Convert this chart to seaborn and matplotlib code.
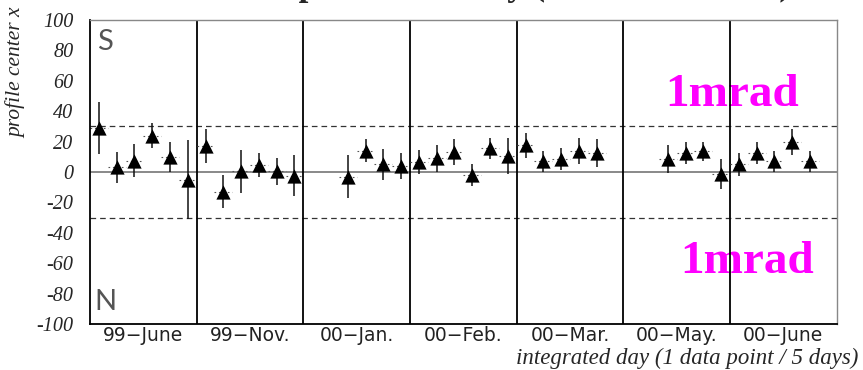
import numpy as np
import pandas as pd
import matplotlib
matplotlib.use("Agg")
import matplotlib.pyplot as plt
import seaborn as sns
from matplotlib.ticker import MultipleLocator

# ---------------- data ----------------
periods = ['99\u2212June', '99\u2212Nov.', '00\u2212Jan.', '00\u2212Feb.',
           '00\u2212Mar.', '00\u2212May.', '00\u2212June']
slots_per_period = 6
period_idx = [0]*6 + [1]*6 + [2]*4 + [3]*6 + [4]*5 + [5]*4 + [6]*5
slot_idx = [0, 1, 2, 3, 4, 5,
            0, 1, 2, 3, 4, 5,
            2, 3, 4, 5,
            0, 1, 2, 3, 4, 5,
            0, 1, 2, 3, 4,
            2, 3, 4, 5,
            0, 1, 2, 3, 4]
center_x = [29, 3, 7.5, 24, 10, -5,
            17, -13, 0.5, 4.5, 0.5, -2.5,
            -3, 14, 5, 4,
            6.5, 9, 13, -2, 15.5, 10.5,
            17.5, 7, 8.5, 14, 12.5,
            8.5, 12.5, 13.5, -1.5,
            5, 12.5, 7, 20, 7]
error_x = [17, 10, 11, 8.5, 10, 26,
           11, 11, 14, 8, 9, 13.5,
           14, 7.5, 10, 8.5,
           8, 9, 8.5, 7.5, 7, 12,
           8, 7, 7.5, 8.5, 9,
           9, 7, 6.5, 10,
           7.5, 7.5, 7, 8.5, 7]
limit_lines = [30, -30]
y_ticks = [-100, -80, -60, -40, -20, 0, 20, 40, 60, 80, 100]

df = pd.DataFrame({
    "period": period_idx,
    "slot": slot_idx,
    "center": center_x,
    "err": error_x,
})
df["pos"] = df["period"] * slots_per_period + df["slot"] + 0.5

# ---------------- figure ----------------
sns.set_style("white")
plt.rcParams["font.family"] = ["Liberation Serif", "DejaVu Sans"]
plt.rcParams["axes.unicode_minus"] = False

W, H = 863, 370
fig = plt.figure(figsize=(W/100, H/100), dpi=100)
ax = fig.add_axes([90/W, 46/H, 746.7/W, 304/H])

n_per = len(periods)
ax.set_xlim(0, n_per * slots_per_period)
ax.set_ylim(-100, 100)

# reference lines
ax.axhline(0, color="#808080", lw=1.3, zorder=1)
for v in limit_lines:
    ax.axhline(v, color="#333333", lw=0.9, ls=(0, (4.5, 3.2)), zorder=1)
for b in range(1, n_per):
    ax.axvline(b * slots_per_period, color="black", lw=1.3, zorder=2)

# x "error" dashes
ax.hlines(df["center"], df["pos"] - 0.5, df["pos"] + 0.5,
          colors="#555555", linewidth=0.8, linestyles=(0, (1.5, 2.5)), zorder=2)
# y error bars
ax.errorbar(df["pos"], df["center"], yerr=df["err"], fmt="none",
            ecolor="#111111", elinewidth=1.1, capsize=0, zorder=3)
sns.scatterplot(data=df, x="pos", y="center", marker="^", s=105,
                color="black", edgecolor="black", linewidth=0, ax=ax,
                zorder=4, legend=False)

ax.set_xlabel("")
ax.set_ylabel("")

# spines
for s in ["left", "bottom"]:
    ax.spines[s].set_color("black")
    ax.spines[s].set_linewidth(1.3)
for s in ["top", "right"]:
    ax.spines[s].set_color("#888888")
    ax.spines[s].set_linewidth(1.0)

# y ticks
ax.set_yticks(y_ticks)
ax.yaxis.set_minor_locator(MultipleLocator(5))
ax.tick_params(axis="y", which="major", direction="in", length=10, width=1,
               pad=12, labelsize=14.5, color="black")
ax.tick_params(axis="y", which="minor", direction="in", length=5, width=1,
               color="black")
for lab in ax.get_yticklabels():
    lab.set_fontstyle("italic")
    lab.set_family("Liberation Serif")

# x ticks: inner ticks per period, labels at period centres
inner = [p * slots_per_period + k * slots_per_period / 5
         for p in range(n_per) for k in range(1, 5)]
ax.set_xticks(inner, labels=[""] * len(inner))
centers = [p * slots_per_period + slots_per_period / 2 for p in range(n_per)]
ax.set_xticks(centers, labels=periods, minor=True)
ax.tick_params(axis="x", which="major", direction="in", length=4.5, width=1,
               color="black")
ax.tick_params(axis="x", which="minor", length=0, pad=1.5, labelsize=13.5,
               labelcolor="#222222")
for lab in ax.get_xticklabels(minor=True):
    lab.set_family("DejaVu Sans")

# S / N
ax.text(105/W, 1 - 50/H, "S", transform=fig.transFigure, ha="center",
        va="baseline", fontsize=21, family="Lato", fontweight="normal",
        color="#555555", zorder=1)
ax.text(105.5/W, 1 - 310/H, "N", transform=fig.transFigure, ha="center",
        va="baseline", fontsize=21, family="Lato", fontweight="normal",
        color="#555555", zorder=1)

# 1mrad labels (beneath the section lines)
ax.text(665/W, 1 - 106/H, "1mrad", transform=fig.transFigure, ha="left",
        va="baseline", fontsize=34, fontweight="bold", color="#ff00ff",
        family="Liberation Serif", zorder=1)
ax.text(680/W, 1 - 273/H, "1mrad", transform=fig.transFigure, ha="left",
        va="baseline", fontsize=34, fontweight="bold", color="#ff00ff",
        family="Liberation Serif", zorder=1)

# axis titles
fig.text(16/W, 1 - 8/H, "profile center x", rotation=90, ha="center",
         va="top", fontsize=15.5, fontstyle="italic", family="Liberation Serif")
fig.text(858/W, 1 - 358/H, "integrated day (1 data point / 5 days)",
         ha="right", va="center", fontsize=16.5, fontstyle="italic",
         family="Liberation Serif")

# title, mostly cut off by the top edge of the figure (as in the reference)
fig.text(205/W, 1 + 5/H, "Beam profile stability (horizontal N - S)",
         ha="left", va="baseline", fontsize=25, fontweight="bold",
         family="Liberation Serif")

fig.savefig("out.png", dpi=100)
